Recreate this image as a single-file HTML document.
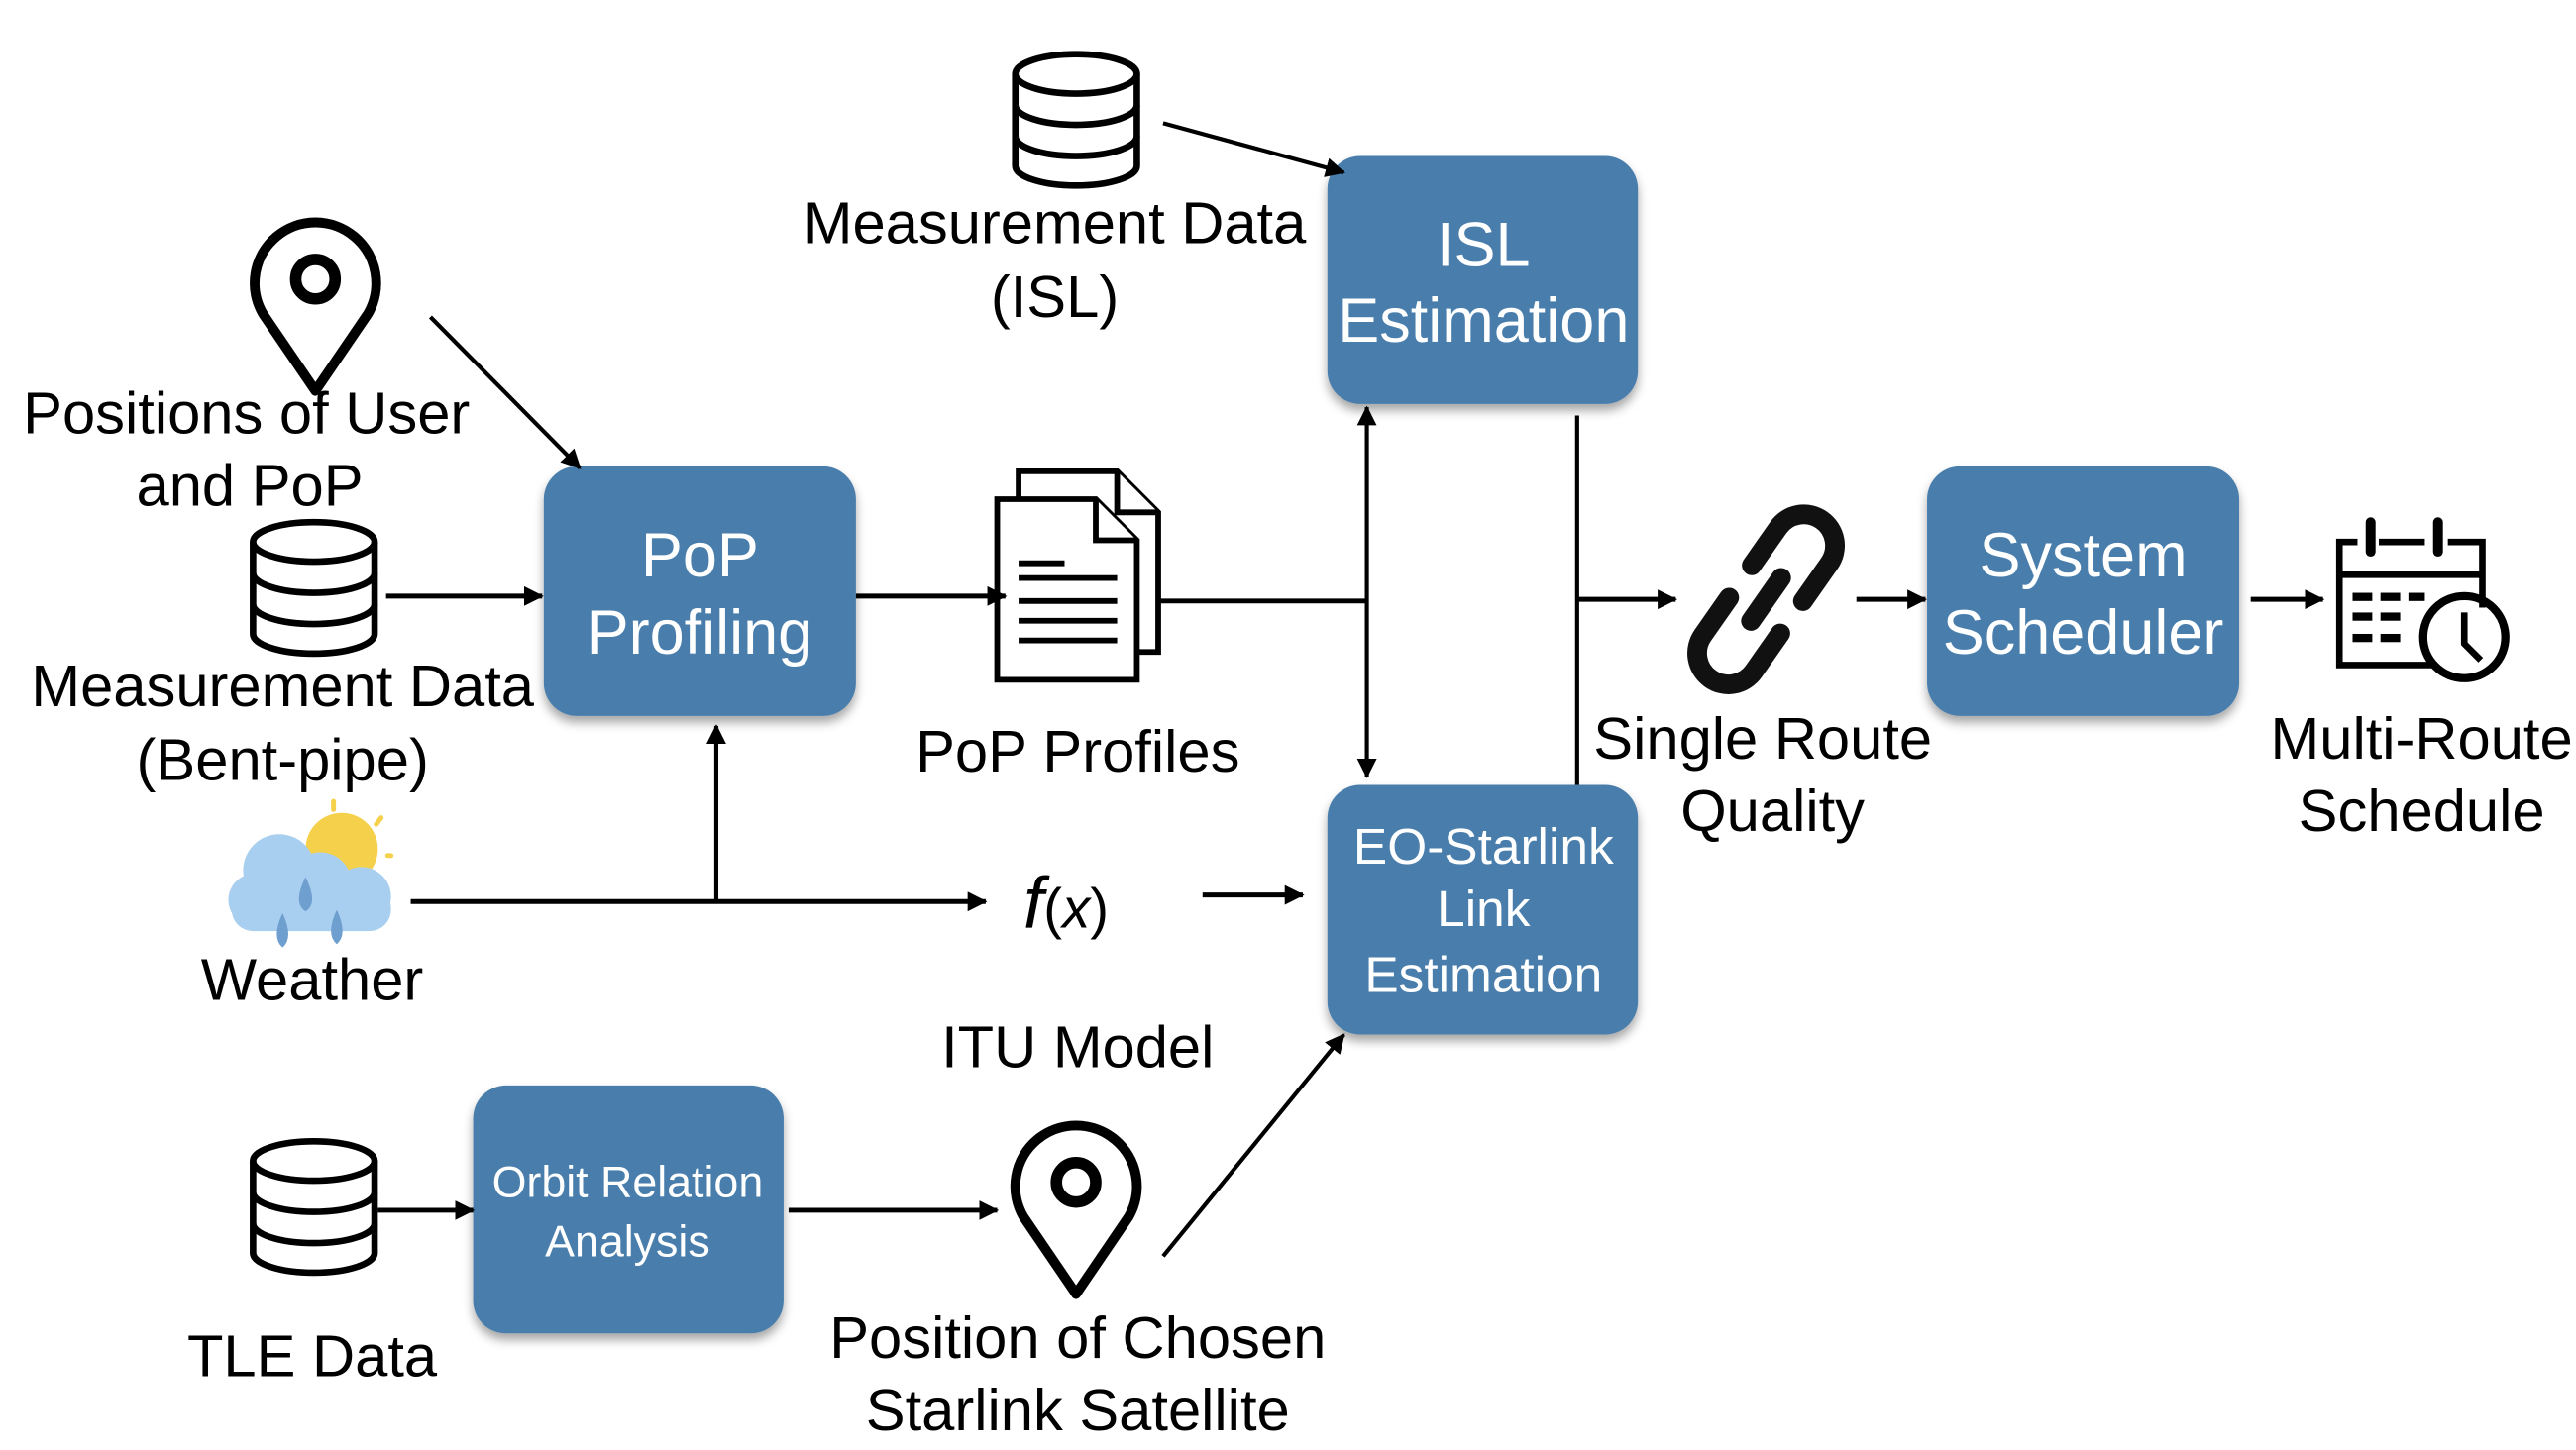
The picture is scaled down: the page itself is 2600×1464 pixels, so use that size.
<!DOCTYPE html>
<html><head><meta charset="utf-8"><style>
html,body{margin:0;padding:0;background:#fff}
svg{display:block}
text{font-family:"Liberation Sans",sans-serif;fill:#000}
.w{fill:#fff}
</style></head><body>
<svg width="2600" height="1464" viewBox="0 0 1568 883" preserveAspectRatio="none" xmlns="http://www.w3.org/2000/svg">
<defs>
<marker id="ah" viewBox="0 0 12 12" refX="11" refY="6" markerWidth="12" markerHeight="12" orient="auto-start-reverse" markerUnits="userSpaceOnUse"><path d="M0,0 L12,6 L0,12 z" fill="#000"/></marker>
<filter id="sh" x="-10%" y="-10%" width="130%" height="130%"><feDropShadow dx="0" dy="4" stdDeviation="3" flood-color="#000" flood-opacity="0.35"/></filter>
<g id="db" fill="none" stroke="#000" stroke-width="4">
<ellipse cx="0" cy="0" rx="37" ry="12"/>
<path d="M-37,0 V56 A37,12 0 0 0 37,56 V0"/>
<path d="M-37,19 A37,12 0 0 0 37,19"/>
<path d="M-37,38 A37,12 0 0 0 37,38"/>
</g>
<g id="pin" fill="none" stroke="#000">
<path d="M0,66 L-32,19 A37,37 0 1 1 32,19 Z" stroke-width="6" stroke-linejoin="round"/>
<circle cx="0" cy="-2" r="12" stroke-width="7"/>
</g>
</defs>

<g filter="url(#sh)" fill="#4a7eac">
<rect x="808" y="95" width="189" height="151" rx="20"/>
<rect x="331" y="284" width="190" height="152" rx="20"/>
<rect x="808" y="478" width="189" height="152" rx="20"/>
<rect x="288" y="661" width="189" height="151" rx="20"/>
<rect x="1173" y="284" width="190" height="152" rx="20"/>
</g>
<g class="w" text-anchor="middle" font-size="38">
<text x="903" y="162" class="w">ISL</text>
<text x="903" y="208" class="w">Estimation</text>
<text x="426" y="351" class="w">PoP</text>
<text x="426" y="398" class="w">Profiling</text>
<text x="1268" y="351" class="w">System</text>
<text x="1268" y="398" class="w">Scheduler</text>
<text x="903" y="526" font-size="31" class="w">EO-Starlink</text>
<text x="903" y="564" font-size="31" class="w">Link</text>
<text x="903" y="604" font-size="31" class="w">Estimation</text>
<text x="382" y="729" font-size="27" class="w">Orbit Relation</text>
<text x="382" y="765" font-size="27" class="w">Analysis</text>
</g>

<use href="#db" x="655" y="45"/>
<use href="#db" x="191" y="330"/>
<use href="#db" x="191" y="707"/>
<use href="#pin" x="192" y="172"/>
<use href="#pin" x="655" y="722"/>

<g fill="#fff" stroke="#000" stroke-width="3.5">
<path d="M620,287 H680 L705,312 V397 H620 Z"/>
<path d="M680,287 V312 H705"/>
<path d="M607,304 H667 L692,329 V414 H607 Z"/>
<path d="M667,304 V329 H692"/>
</g>
<g stroke="#000" stroke-width="3.5">
<line x1="620" y1="343" x2="648" y2="343"/>
<line x1="620" y1="352" x2="680" y2="352"/>
<line x1="620" y1="366" x2="680" y2="366"/>
<line x1="620" y1="378" x2="680" y2="378"/>
<line x1="620" y1="390" x2="680" y2="390"/>
</g>

<g>
<circle cx="208" cy="517" r="22" fill="#f5d04a"/>
<g stroke="#f5d04a" stroke-width="3" stroke-linecap="round"><line x1="203" y1="488" x2="203" y2="493"/><line x1="232" y1="498" x2="229" y2="502"/><line x1="238" y1="521" x2="236" y2="521"/></g>
<g fill="#a9cff0">
<circle cx="170" cy="530" r="22"/><circle cx="195" cy="538" r="19"/><circle cx="155" cy="548" r="16"/><circle cx="220" cy="546" r="18"/>
<rect x="141" y="540" width="97" height="27" rx="13"/>
</g>
<g fill="#6f9fcf">
<path d="M186,534 q-8,16 0,21 q8,-5 0,-21z"/>
<path d="M172,556 q-7,15 0,21 q7,-6 0,-21z"/>
<path d="M205,554 q-7,15 0,21 q7,-6 0,-21z"/>
</g>
</g>

<text x="623" y="565" font-family="Liberation Serif,serif" font-style="italic" font-size="44" fill="#333">f<tspan font-style="normal" font-size="34">(</tspan><tspan font-family="Liberation Sans,sans-serif" font-style="italic" font-size="34">x</tspan><tspan font-style="normal" font-size="34">)</tspan></text>

<g fill="none" stroke="#111" stroke-width="12" stroke-linecap="round" transform="translate(1075,365) rotate(-55)">
<path d="M-12,-19 H-40 A19,19 0 0 0 -40,19 H-12"/>
<path d="M12,19 H40 A19,19 0 0 0 40,-19 H12"/>
<line x1="-16" y1="0" x2="16" y2="0"/>
</g>

<g fill="none" stroke="#000" stroke-width="4">
<path d="M1435,330 H1424 V405 H1482"/>
<path d="M1448,330 H1476"/>
<path d="M1490,330 H1511 V370"/>
<line x1="1424" y1="350" x2="1511" y2="350"/>
<line x1="1443" y1="318" x2="1443" y2="336" stroke-width="6" stroke-linecap="round"/>
<line x1="1484" y1="318" x2="1484" y2="336" stroke-width="6" stroke-linecap="round"/>
<circle cx="1500" cy="388" r="25" stroke-width="5"/>
<path d="M1500,373 V392 L1510,402" stroke-width="4"/>
</g>
<g fill="#000">
<rect x="1432" y="361" width="12" height="5"/><rect x="1449" y="361" width="12" height="5"/><rect x="1466" y="361" width="10" height="5"/>
<rect x="1432" y="373" width="12" height="5"/><rect x="1449" y="373" width="12" height="5"/>
<rect x="1432" y="386" width="12" height="5"/><rect x="1449" y="386" width="12" height="5"/>
</g>

<g stroke="#000" stroke-width="2.5" fill="none">
<line x1="708" y1="75" x2="818" y2="105" marker-end="url(#ah)"/>
<line x1="262" y1="193" x2="353" y2="285" marker-end="url(#ah)"/>
<line x1="235" y1="363" x2="330" y2="363" stroke-width="3" marker-end="url(#ah)"/>
<line x1="521" y1="363" x2="612" y2="363" stroke-width="3" marker-end="url(#ah)"/>
<line x1="706" y1="366" x2="833" y2="366" stroke-width="3"/>
<line x1="832" y1="248" x2="832" y2="473" marker-start="url(#ah)" marker-end="url(#ah)"/>
<line x1="250" y1="549" x2="600" y2="549" stroke-width="3" marker-end="url(#ah)"/>
<line x1="436" y1="549" x2="436" y2="442" marker-end="url(#ah)"/>
<line x1="732" y1="545" x2="793" y2="545" stroke-width="3" marker-end="url(#ah)"/>
<line x1="230" y1="737" x2="288" y2="737" stroke-width="3" marker-end="url(#ah)"/>
<line x1="480" y1="737" x2="607" y2="737" stroke-width="3" marker-end="url(#ah)"/>
<line x1="708" y1="765" x2="818" y2="630" marker-end="url(#ah)"/>
<line x1="960" y1="253" x2="960" y2="478"/>
<line x1="960" y1="365" x2="1020" y2="365" stroke-width="3" marker-end="url(#ah)"/>
<line x1="1130" y1="365" x2="1172" y2="365" stroke-width="3" marker-end="url(#ah)"/>
<line x1="1370" y1="365" x2="1414" y2="365" stroke-width="3" marker-end="url(#ah)"/>
</g>

<g text-anchor="middle" font-size="36">
<text x="642" y="148">Measurement Data</text>
<text x="642" y="193">(ISL)</text>
<text x="150" y="264">Positions of User</text>
<text x="152" y="308">and PoP</text>
<text x="172" y="430">Measurement Data</text>
<text x="172" y="475">(Bent-pipe)</text>
<text x="656" y="470">PoP Profiles</text>
<text x="190" y="609">Weather</text>
<text x="656" y="650">ITU Model</text>
<text x="190" y="838">TLE Data</text>
<text x="656" y="827">Position of Chosen</text>
<text x="656" y="871">Starlink Satellite</text>
<text x="1073" y="462">Single Route</text>
<text x="1079" y="506">Quality</text>
<text x="1474" y="462">Multi-Route</text>
<text x="1474" y="506">Schedule</text>
</g>
</svg>
</body></html>
